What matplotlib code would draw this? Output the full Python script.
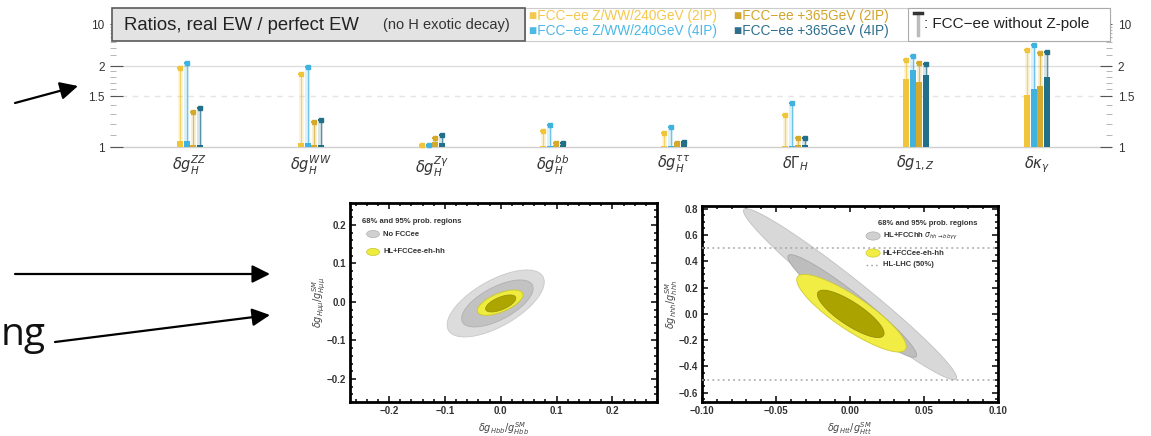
import numpy as np
import matplotlib
matplotlib.use('Agg')
import matplotlib.pyplot as plt
from matplotlib.patches import FancyArrowPatch, Ellipse, Rectangle
from matplotlib.lines import Line2D
from matplotlib.ticker import AutoMinorLocator, FixedLocator, MultipleLocator, NullFormatter

plt.rcParams['font.family'] = ['Liberation Sans', 'DejaVu Sans']

# ---- top panel: ratios real EW / perfect EW
couplings = [r'$\delta g_{H}^{ZZ}$', r'$\delta g_{H}^{WW}$', r'$\delta g_{H}^{Z\gamma}$',
             r'$\delta g_{H}^{bb}$', r'$\delta g_{H}^{\tau\tau}$', r'$\delta\Gamma_H$',
             r'$\delta g_{1,Z}$', r'$\delta\kappa_\gamma$']
scenarios = ['FCC\u2212ee Z/WW/240GeV (2IP)', 'FCC\u2212ee Z/WW/240GeV (4IP)',
             'FCC\u2212ee +365GeV (2IP)', 'FCC\u2212ee +365GeV (4IP)']
scen_colors = ['#f0c53a', '#3fb2e0', '#d4a92c', '#226f8a']
text_colors = ['#f3c84c', '#4cb8e6', '#d2a42a', '#2e6f8e']

# with Z-pole (solid bars)
ratio_240_2ip = [1.05, 1.03, 1.01, 1.01, 1.01, 1.01, 1.77, 1.51]
ratio_240_4ip = [1.05, 1.03, 1.01, 1.01, 1.01, 1.01, 1.93, 1.60]
ratio_365_2ip = [1.02, 1.02, 1.04, 1.02, 1.03, 1.02, 1.71, 1.65]
ratio_365_4ip = [1.02, 1.02, 1.03, 1.02, 1.04, 1.02, 1.84, 1.80]
# without Z-pole (caps)
noz_240_2ip = [1.96, 1.85, 1.02, 1.14, 1.12, 1.29, 2.50, 3.70]
noz_240_4ip = [2.22, 1.98, 1.02, 1.19, 1.17, 1.42, 2.90, 4.50]
noz_365_2ip = [1.32, 1.22, 1.07, 1.03, 1.03, 1.07, 2.25, 3.30]
noz_365_4ip = [1.36, 1.24, 1.10, 1.03, 1.04, 1.07, 2.20, 3.40]

with_z = [ratio_240_2ip, ratio_240_4ip, ratio_365_2ip, ratio_365_4ip]
without_z = [noz_240_2ip, noz_240_4ip, noz_365_2ip, noz_365_4ip]

# ---- bottom panels: 2D probability regions (centre x, centre y, half-width x, half-width y, corr)
noFCC_95 = [-0.009, -0.004, 0.087, 0.087, 0.64]
noFCC_68 = [-0.006, -0.004, 0.064, 0.061, 0.64]
fullFCC_95 = [-0.001, -0.002, 0.041, 0.033, 0.62]
fullFCC_68 = [0.000, -0.004, 0.027, 0.022, 0.62]

fcchh_95 = [0.000, 0.150, 0.072, 0.650, -0.975]
fcchh_68 = [0.0015, 0.060, 0.0435, 0.390, -0.955]
fcceehh_95 = [0.001, 0.005, 0.037, 0.295, -0.86]
fcceehh_68 = [0.0005, 0.000, 0.0225, 0.180, -0.82]
hllhc_50 = [-0.5, 0.5]

W, H = 1151, 436
fig = plt.figure(figsize=(W / 100, H / 100), dpi=100)


def fig_box(x0, y0, x1, y1):
    # image pixel box -> figure fraction rect
    return [x0 / W, (H - y1) / H, (x1 - x0) / W, (y1 - y0) / H]


# ================= top bar chart =================
ax = fig.add_axes(fig_box(110, 6, 1112, 150))
lv_knots = np.log([0.9, 1.0, 1.5, 2.0, 10.0, 20.0])
px_knots = np.array([-13.0, 0.0, 51.0, 81.0, 123.0, 141.0])


def fwd(v):
    return np.interp(np.log(np.clip(v, 1e-3, None)), lv_knots, px_knots)


def inv(p):
    return np.exp(np.interp(p, px_knots, lv_knots))


ax.set_yscale('function', functions=(fwd, inv))
ax.set_ylim(0.976, 20)
ax.set_xlim(-0.661, 7.62)

x = np.arange(len(couplings))
bw = 0.054
for j in range(4):
    xs = x + (j - 1.5) * bw
    top = np.array(with_z[j])
    cap = np.array(without_z[j])
    ax.bar(xs, cap - 1, bottom=1, width=bw * 0.75, color=scen_colors[j], alpha=0.18, zorder=2)
    ax.bar(xs, top - 1, bottom=1, width=bw * 0.95, color=scen_colors[j], zorder=3)
    ax.vlines(xs, top, cap, color=scen_colors[j], lw=0.9, alpha=0.7, zorder=4)
    ax.plot(xs, cap, ls='none', marker='_', ms=5, mew=1.5, color=scen_colors[j], zorder=5)
    ax.plot(xs, cap, ls='none', marker='s', ms=2.2, color=scen_colors[j], zorder=5)

ax.axhline(2, color='#dedede', lw=1, zorder=1)
ax.axhline(1.5, color='#e4e4e4', lw=1, ls=(0, (4, 4)), zorder=1)
ax.axhline(1, color='#cfcfcf', lw=1, zorder=1)

for s in ax.spines.values():
    s.set_visible(False)
ax.set_xticks(x)
ax.set_xticklabels(couplings, fontsize=10.5, color='#333333')
ax.tick_params(axis='x', length=0, pad=3)
ax.yaxis.set_major_locator(FixedLocator([1, 1.5, 2, 10]))
ax.yaxis.set_major_formatter(plt.FuncFormatter(lambda v, p: '%g' % v))
ax.yaxis.set_minor_locator(FixedLocator([1.1, 1.2, 1.3, 1.4, 1.6, 1.7, 1.8, 1.9, 3, 4, 5, 6, 7, 8, 9]))
ax.yaxis.set_minor_formatter(NullFormatter())
ax.tick_params(axis='y', which='major', direction='in', length=9, width=0.8, color='#555555',
               labelsize=8.5, labelcolor='#333333', left=True, right=True, labelright=True, pad=4)
ax.tick_params(axis='y', which='minor', direction='in', length=4, width=0.6, color='#aaaaaa',
               left=True, right=True)


# legend band
def ax_frac(px, py):
    return (px - 110) / 1002, (150 - py) / 144


x0, y0 = ax_frac(112, 41)
x1, y1 = ax_frac(525, 8)
ax.add_patch(Rectangle((x0, y0), x1 - x0, y1 - y0, transform=ax.transAxes, fc='#e3e3e3',
                       ec='#5a5a5a', lw=1.2, zorder=10, clip_on=False))
x2, _ = ax_frac(1110, 0)
ax.add_patch(Rectangle((x1, y0), x2 - x1, y1 - y0, transform=ax.transAxes, fc='white',
                       ec='#cccccc', lw=0.8, zorder=9, clip_on=False))
xt, _ = ax_frac(908, 0)
ax.add_patch(Rectangle((xt, y0), x2 - xt, y1 - y0, transform=ax.transAxes, fc='white',
                       ec='#aaaaaa', lw=0.8, zorder=10, clip_on=False))

tx, ty = ax_frac(124, 25)
ax.text(tx, ty, 'Ratios, real EW / perfect EW', transform=ax.transAxes, fontsize=13.3,
        color='#222222', va='center', ha='left', zorder=11)
tx, ty = ax_frac(383, 25)
ax.text(tx, ty, '(no H exotic decay)', transform=ax.transAxes, fontsize=10.5,
        color='#333333', va='center', ha='left', zorder=11)

leg_pos = [(529, 16), (529, 31), (734, 16), (734, 31)]
for j in range(4):
    tx, ty = ax_frac(*leg_pos[j])
    ax.text(tx, ty, '\u25a0' + scenarios[j], transform=ax.transAxes, fontsize=9.8,
            color=text_colors[j], va='center', ha='left', zorder=11)

# T symbol for "without Z-pole"
sx, sy0 = ax_frac(918, 35)
_, sy1 = ax_frac(918, 13)
ax.add_line(Line2D([sx, sx], [sy0, sy1], transform=ax.transAxes, color='#bbbbbb', lw=2.5,
                   zorder=11, clip_on=False))
ax.add_line(Line2D([sx - 0.004, sx + 0.004], [sy1, sy1], transform=ax.transAxes, color='#333333',
                   lw=2.5, zorder=12, clip_on=False))
tx, ty = ax_frac(924, 24)
ax.text(tx, ty, ': FCC\u2212ee without Z-pole', transform=ax.transAxes, fontsize=11,
        color='#222222', va='center', ha='left', zorder=11)


# ================= bottom panels =================
def region(a, p, **kw):
    cx, cy, hx, hy, r = p
    t = np.linspace(0, 2 * np.pi, 300)
    xx = cx + hx * np.cos(t)
    yy = cy + hy * (r * np.cos(t) + np.sqrt(1 - r * r) * np.sin(t))
    a.fill(xx, yy, **kw)


def frame(a):
    for s in a.spines.values():
        s.set_linewidth(2)
    a.tick_params(which='both', direction='in', top=True, right=True, width=1.1)
    a.tick_params(which='major', length=4, labelsize=7, labelcolor='#333333', pad=3)
    a.tick_params(which='minor', length=2.2)
    for lab in a.get_xticklabels() + a.get_yticklabels():
        lab.set_fontweight('bold')


fmt1 = plt.FuncFormatter(lambda v, p: ('%.1f' % v).replace('-', '\u2212'))
fmt2 = plt.FuncFormatter(lambda v, p: ('%.2f' % v).replace('-', '\u2212'))

axl = fig.add_axes(fig_box(350, 203, 657, 402))
region(axl, noFCC_95, fc='#dcdcdc', ec='#c8c8c8', lw=0.6, zorder=2)
region(axl, noFCC_68, fc='#c2c2c2', ec='#b0b0b0', lw=0.6, zorder=3)
region(axl, fullFCC_95, fc='#eeec3c', ec='#c9c630', lw=0.6, zorder=4)
region(axl, fullFCC_68, fc='#aea600', ec='#99920a', lw=0.6, zorder=5)
axl.set_xlim(-0.27, 0.28)
axl.set_ylim(-0.26, 0.257)
axl.xaxis.set_major_locator(MultipleLocator(0.1))
axl.yaxis.set_major_locator(MultipleLocator(0.1))
axl.xaxis.set_minor_locator(AutoMinorLocator(5))
axl.yaxis.set_minor_locator(AutoMinorLocator(5))
axl.xaxis.set_major_formatter(fmt1)
axl.yaxis.set_major_formatter(fmt1)
frame(axl)
axl.set_xlabel(r'$\delta g_{Hbb}/g_{Hbb}^{SM}$', fontsize=7, color='#444444', labelpad=3)
axl.set_ylabel(r'$\delta g_{H\mu\mu}/g_{H\mu\mu}^{SM}$', fontsize=7, color='#444444', labelpad=-1)
axl.text(0.039, 0.905, '68% and 95% prob. regions', transform=axl.transAxes, fontsize=5.5,
         fontweight='bold', color='#333333', va='center')
axl.add_patch(Ellipse((0.075, 0.844), 0.042, 0.036, transform=axl.transAxes, fc='#d0d0d0',
                      ec='#b0b0b0', lw=0.5))
axl.text(0.108, 0.844, 'No FCCee', transform=axl.transAxes, fontsize=5.5, fontweight='bold',
         color='#333333', va='center')
axl.add_patch(Ellipse((0.075, 0.754), 0.042, 0.036, transform=axl.transAxes, fc='#eeec3c',
                      ec='#c9c630', lw=0.5))
axl.text(0.108, 0.754, 'HL+FCCee-eh-hh', transform=axl.transAxes, fontsize=5.5, fontweight='bold',
         color='#333333', va='center')

axr = fig.add_axes(fig_box(702, 206, 998, 402))
region(axr, fcchh_95, fc='#d8d8d8', ec='#c0c0c0', lw=0.6, zorder=2)
region(axr, fcchh_68, fc='#bdbdbd', ec='#a8a8a8', lw=0.6, zorder=3)
region(axr, fcceehh_95, fc='#f1ed44', ec='#cfc935', lw=0.6, zorder=4)
region(axr, fcceehh_68, fc='#aba300', ec='#958f08', lw=0.6, zorder=5)
for yv in hllhc_50:
    axr.axhline(yv, color='#a5a5a5', lw=1.1, ls=(0, (1.2, 2.2)), zorder=6)
axr.set_xlim(-0.1, 0.1)
axr.set_ylim(-0.67, 0.82)
axr.xaxis.set_major_locator(MultipleLocator(0.05))
axr.yaxis.set_major_locator(MultipleLocator(0.2))
axr.xaxis.set_minor_locator(AutoMinorLocator(5))
axr.yaxis.set_minor_locator(AutoMinorLocator(4))
axr.xaxis.set_major_formatter(fmt2)
axr.yaxis.set_major_formatter(fmt1)
frame(axr)
axr.set_xlabel(r'$\delta g_{Htt}/g_{Htt}^{SM}$', fontsize=7, color='#444444', labelpad=3)
axr.set_ylabel(r'$\delta g_{hhh}/g_{hhh}^{SM}$', fontsize=7, color='#444444', labelpad=-1)
axr.text(0.595, 0.913, '68% and 95% prob. regions', transform=axr.transAxes, fontsize=5.5,
         fontweight='bold', color='#333333', va='center')
axr.add_patch(Ellipse((0.578, 0.847), 0.048, 0.042, transform=axr.transAxes, fc='#d0d0d0',
                      ec='#b0b0b0', lw=0.5))
axr.text(0.611, 0.847, r'HL+FCChh $\sigma_{hh\to bb\gamma\gamma}$', transform=axr.transAxes,
         fontsize=5.5, fontweight='bold', color='#333333', va='center')
axr.add_patch(Ellipse((0.578, 0.76), 0.048, 0.042, transform=axr.transAxes, fc='#f1ed44',
                      ec='#cfc935', lw=0.5))
axr.text(0.611, 0.76, 'HL+FCCee-eh-hh', transform=axr.transAxes, fontsize=5.5, fontweight='bold',
         color='#333333', va='center')
axr.add_line(Line2D([0.555, 0.60], [0.70, 0.70], transform=axr.transAxes, color='#a5a5a5',
                    lw=1.0, ls=(0, (1.2, 2.2))))
axr.text(0.611, 0.70, 'HL-LHC (50%)', transform=axr.transAxes, fontsize=5.5, fontweight='bold',
         color='#333333', va='center')


# ================= slide arrows and text =================
def pt(px, py):
    return (px / W, (H - py) / H)


for (a, b) in [((15, 103), (78, 86)), ((15, 274), (270, 274)), ((55, 342), (270, 315))]:
    fig.add_artist(FancyArrowPatch(pt(*a), pt(*b), transform=fig.transFigure,
                                   arrowstyle='-|>,head_length=0.4,head_width=0.2',
                                   mutation_scale=27, lw=1.6, color='black',
                                   shrinkA=0, shrinkB=0))
fig.text(1 / W, (H - 345) / H, 'ng', fontsize=28, family=['Open Sans', 'DejaVu Sans'],
         color='#111111', va='baseline', ha='left')

fig.savefig('out.png', dpi=100)
